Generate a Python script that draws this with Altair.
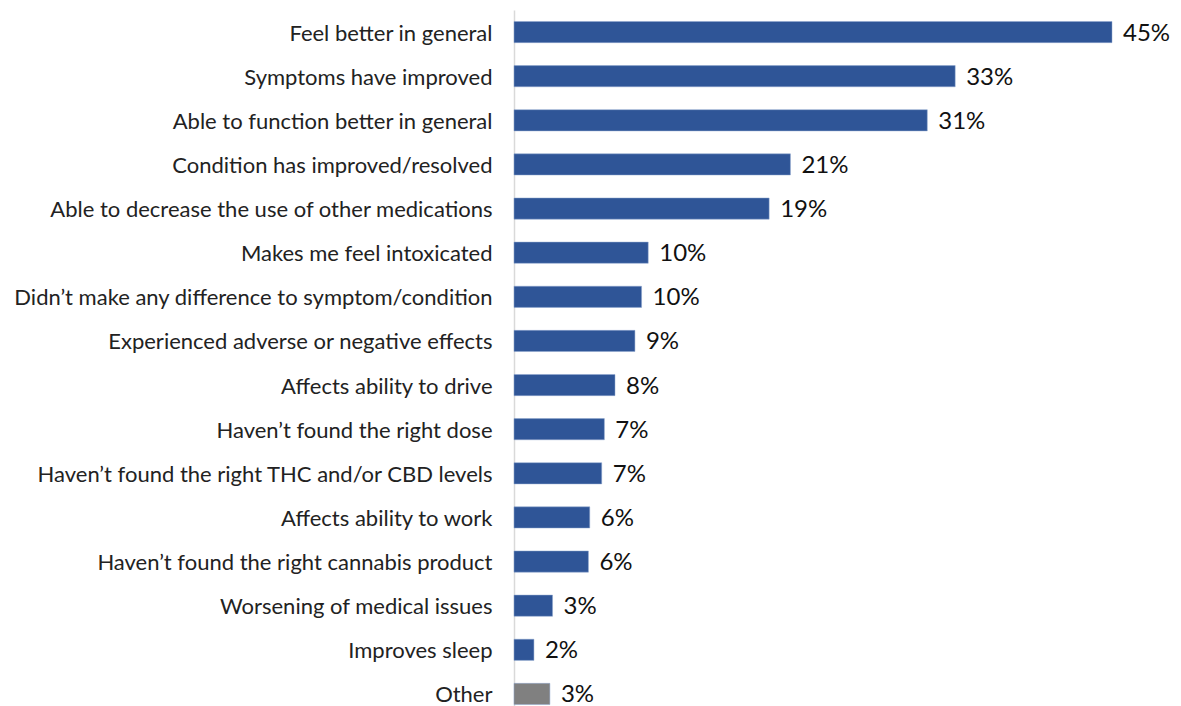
import altair as alt
import pandas as pd

categories = [
    "Feel better in general",
    "Symptoms have improved",
    "Able to function better in general",
    "Condition has improved/resolved",
    "Able to decrease the use of other medications",
    "Makes me feel intoxicated",
    "Didn\u2019t make any difference to symptom/condition",
    "Experienced adverse or negative effects",
    "Affects ability to drive",
    "Haven\u2019t found the right dose",
    "Haven\u2019t found the right THC and/or CBD levels",
    "Affects ability to work",
    "Haven\u2019t found the right cannabis product",
    "Worsening of medical issues",
    "Improves sleep",
    "Other",
]
values = [45.0, 33.2, 31.1, 20.8, 19.2, 10.1, 9.6, 9.1, 7.6, 6.8, 6.6, 5.7, 5.6, 2.9, 1.5, 2.7]
labels = ["45%", "33%", "31%", "21%", "19%", "10%", "10%", "9%", "8%", "7%", "7%", "6%", "6%", "3%", "2%", "3%"]
groups = ["main"] * 15 + ["other"]

df = pd.DataFrame({"category": categories, "value": values, "label": labels, "group": groups})

FONT = "Lato"

y = alt.Y(
    "category:N",
    sort=categories,
    scale=alt.Scale(paddingInner=0.52, paddingOuter=0.26),
    axis=alt.Axis(
        title=None,
        ticks=False,
        labelPadding=22,
        labelLimit=1000,
        labelFont=FONT,
        labelFontSize=22,
        labelOffset=1.5,
        labelColor="#222222",
        domainColor="#d9d9d9",
        domainWidth=1.5,
    ),
)
x = alt.X("value:Q", scale=alt.Scale(domain=[0, 45], nice=False), axis=None)

bars = alt.Chart(df).mark_bar(stroke="#8fa6cf", strokeWidth=0.5).encode(
    x=x,
    y=y,
    color=alt.Color(
        "group:N",
        scale=alt.Scale(domain=["main", "other"], range=["#2F5597", "#808080"]),
        legend=None,
    ),
)

text = alt.Chart(df).mark_text(
    align="left", baseline="middle", dx=11, dy=1.5, font=FONT, fontSize=24, color="#111111"
).encode(x=x, y=y, text="label:N")

chart = (
    alt.layer(bars, text)
    .properties(
        width=598,
        height=706,
        autosize=alt.AutoSizeParams(type="none"),
        padding={"left": 506, "top": 2, "right": 60, "bottom": 0},
        background="white",
    )
    .configure_view(stroke=None)
)

chart.save("out.html", embed_options={"renderer": "svg", "actions": False})
